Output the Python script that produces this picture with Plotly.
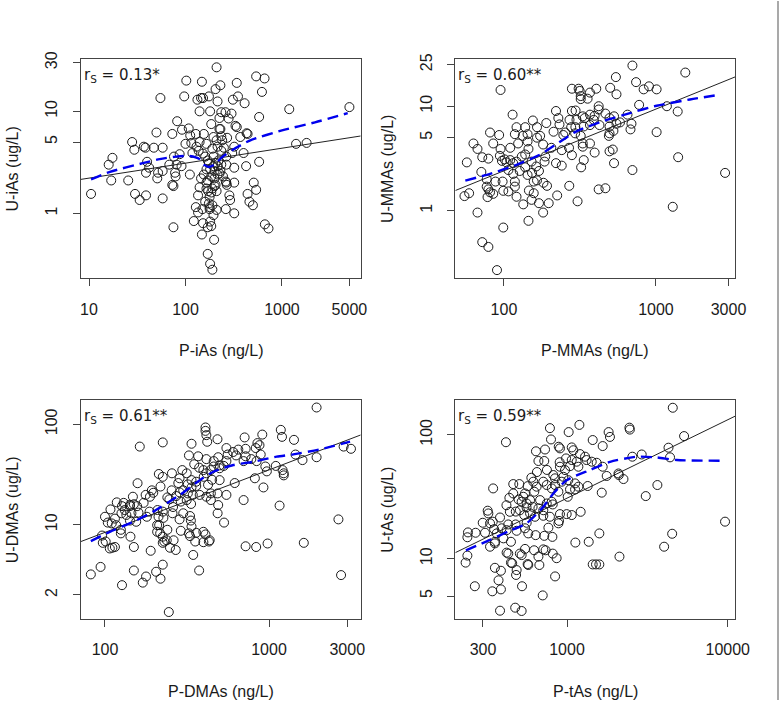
import plotly.graph_objects as go

W, H = 781, 709

# ---------------- data ----------------
p_ias = [210,102,148,340,540,660,620,230,205,55,97,133,145,152,175,215,350,310,410,140,
         180,235,260,300,280,225,580,1190,5000,82,185,330,340,230,92,108,50,73,112,128,
         155,195,235,270,370,430,440,28,29.5,37,38.5,47,58,100,115,140,165,215,235,320,
         400,1400,1800,137,160,195,16,17.5,40,42,39,52,58,51,68,76,78,79,81,87,
         91,111,145,155,165,175,195,205,215,235,265,320,425,580,17,25.5,10.5,30,33.5,39,
         58,73,75,135,140,165,165,172,185,178,200,210,262,265,268,285,290,320,440,460,
         500,510,540,128,135,150,178,210,262,320,122,152,170,185,180,148,198,75,665,725,
         170,180,190,178,195,170,225,200,152,130,118,240,210,225,265,305,
         160,175,190,185,200,215,205,190,230,245,180,170,220,250,190]
u_ias = [27,20,19.5,19,22,21,15.5,18,16.5,13.5,14,13,13.5,13.5,14,12.5,14,13,12,10,
         10,9.8,9.8,9.5,8.5,8.6,8.8,10.5,11,8,7.5,7.2,7,6.7,6.6,6.8,6.2,6,5.8,6,
         6,5.6,5.7,5.5,5.6,6.1,6,5,4.2,4.5,4.4,4.4,4.4,4.8,4.9,5,4.8,4.5,4.1,4.5,
         3.9,4.8,4.9,4.1,3.6,3.6,3,3.5,3.2,2.8,2.5,2.5,2.6,2.2,3,3.6,2.5,2.3,3,3.8,
         2.9,2.4,2.2,2.4,2.7,3.1,2.9,3.1,2.9,3,3,2.8,2.9,3.2,2.1,2.1,1.55,1.55,1.35,1.5,
         1.4,1.9,1.85,1.5,1.8,2,1.75,1.65,1.6,1.45,1.85,1.65,2.05,2,1.9,1.5,1.35,2,1.55,1.3,
         1.2,2,1.7,1.15,1.02,1.1,1.1,1.08,1.1,1,0.84,0.8,0.73,0.75,0.83,0.62,0.55,0.73,0.78,0.71,
         0.4,0.32,0.28,1.15,0.96,2.1,2.45,2.6,3.85,4.5,3.9,5.2,5.2,6.7,3.6,3.9,
         1.3,1.25,1.2,2.3,2.2,2.4,1.9,1.75,2.6,2.3,2.7,3.3,3.3,4.4,4.3]
fit_ias_x = [8.2, 6546]
fit_ias_y = [2.15, 5.73]
lo_ias_x = [10.5,16.5,36,54,80,110,140,155,175,200,235,310,470,1000,2200,4800]
lo_ias_y = [2.15,2.55,3.1,3.4,3.6,3.65,3.4,3.0,2.85,3.0,3.5,4.2,5.2,6.5,7.8,9.6]

p_mmas = [700,1560,545,740,830,900,1010,500,550,95,280,310,315,320,368,405,355,320,775,1180,
          1390,420,420,220,280,296,114,228,368,330,395,465,530,650,155,190,232,270,300,340,
          390,425,495,550,580,690,121,138,165,277,295,335,368,495,680,81,93,118,133,143,
          165,173,212,246,253,294,320,330,368,490,495,525,1010,63,67,85,95,110,124,143,
          145,181,205,240,268,280,330,395,495,520,72,79,57,94,97,101,104,110,115,121,
          131,138,152,185,187,220,240,322,335,530,700,2850,1400,71,77,88,98,107,115,118,
          127,138,143,153,163,170,157,165,182,77,79,78,85,81,55,59,99,107,118,121,
          134,152,146,157,170,197,192,224,269,305,420,465,1290,67,181,145,99,72,79,90]
u_mmas = [24.5,21,19,17,14.5,15.5,14.5,15,13,14.3,14.7,14.7,14,12.5,13.5,14.7,11.8,11.7,10.3,10,
          8.9,10,9.3,9,9,9.1,8.3,7.7,8.3,8,8.1,8.5,8,8.3,7.3,6.9,6.7,7.4,7.4,7.7,
          7.4,6.6,7.7,6.8,7,6.8,6.3,6.3,6.3,6.3,6.3,6.4,6.6,6.4,6,5.6,5.3,5.4,5.2,5.4,
          5,5.2,5.7,5.3,5.6,5.5,5.2,4.4,4.4,5.2,5.5,5.8,5.65,4.4,3.9,4.4,3.9,4,4.4,4.6,
          3.9,4.3,4,3.8,4,3.4,4.1,3.6,3.7,3.85,3.25,3.15,2.9,3.35,3.0,3.1,2.9,3.05,2.85,2.95,
          3.3,3.45,2.95,2.95,3.3,2.85,2.7,2.6,3.05,2.85,2.45,2.3,3.25,2.35,2,1.9,1.9,2.45,2.25,1.9,
          2.4,2.6,2.2,2.3,2.65,2.4,1.9,1.95,1.85,1.7,1.6,1.35,1.45,1.5,1.38,1.47,1.55,1.53,1.7,1.36,
          1.15,1.27,1.56,1.47,1.18,1.18,1.73,1.4,1.73,1.23,1.6,1.64,1.09,0.96,0.96,0.8,0.69,0.5,0.45,0.27]
fit_mmas_x = [47.9, 3326]
fit_mmas_y = [1.56, 19.1]
lo_mmas_x = [55.7,81,121,172,245,300,450,674,1010,1675,2640]
lo_mmas_y = [1.94,2.25,2.75,3.43,4.78,5.75,7.2,8.6,10.1,11.6,12.9]

p_dmas = [1950,410,410,1180,1200,415,485,710,910,1420,
          225,337,163,420,550,605,650,720,850,875,
          830,2850,3160,325,370,490,560,630,720,890,
          1450,1600,1950,415,460,500,550,780,700,840,
          375,398,415,440,460,500,530,296,315,950,
          970,1100,1210,1230,1230,213,225,256,285,337,
          360,425,500,618,820,925,158,320,337,360,
          193,218,197,177,188,255,285,320,343,378,
          415,442,486,550,240,247,272,290,315,335,
          442,490,700,1160,148,150,172,118,130,142,
          127,142,157,108,132,145,126,160,187,209,
          225,258,300,330,486,135,100,104,115,110,
          117,142,155,212,214,227,285,334,337,532,
          2650,125,125,143,208,208,217,225,240,290,
          325,330,360,398,410,355,398,430,435,238,
          230,225,262,96,97,101,107,111,115,150,
          190,249,270,345,720,835,980,1630,82,94,
          150,178,205,170,218,225,375,127,2750,245,
          180,260,300,400,350,450,280]
u_dmas = [147,93,86,88,75,78,71,74,79,70,
          66,64,60,67,58,53,56,57,65,62,
          58,60,57,49,48,47,50,49,48,50,
          50,44,47,45,43,39,43,45,43,43,
          37,35,32.5,35,38,36.5,38.5,35,32.5,38,
          34,38.5,35,32.5,31,32,30,32.5,29,27.8,
          26.8,25,27.8,26,29,23.5,25.9,25.2,23.5,24.3,
          22,24,20.8,19.8,19,22,21,20.5,19.8,19.8,
          19,20.5,20.5,19.8,18.7,17.9,19.3,17,17.6,16.1,
          17.6,15.7,17.6,15.5,19,16,16.5,16.7,16.5,15.8,
          15.3,15.3,15.3,14.2,14,13,13,13.2,13.5,14,
          13.5,13,13,12.2,13,12.5,12,10.5,11.5,10.3,
          9.9,11,10.7,12,9.9,11.7,11.3,11,9.6,10.5,
          11.3,8.9,8.2,7.6,9.9,8.5,8.2,7.6,8.9,8.7,
          8.2,7.7,8.3,8.5,8,6.8,6.7,6.8,7,7.0,
          6.8,6.6,7.0,7.8,6.6,6.8,5.8,5.9,6,6,
          5.5,5.9,5.6,5.0,6.1,6,6.5,6.6,3.2,3.8,
          3.5,3.05,3.4,2.65,2.9,4,3.5,2.5,3.15,1.35,
          12,15,22,30,40,28,26]
fit_dmas_x = [71, 3622]
fit_dmas_y = [6.78, 78.3]
lo_dmas_x = [82,107,149,197,286,380,458,606,802,1114,1406,2045,3120]
lo_dmas_y = [6.87,8.5,10.7,13.5,19.8,27.9,33.7,39.3,42.4,47.6,50.2,56.3,67.1]

p_tas = [4550,783,1194,1024,2445,2460,1815,1850,1445,5350,
         417,795,888,904,1070,1095,1667,4280,641,730,
         1205,1295,2915,2550,4375,664,722,986,1070,1148,
         1324,1425,1530,1667,904,972,1044,1177,2090,2100,
         1766,2245,822,842,949,927,1019,1122,1177,1345,
         1044,1122,1645,3650,3090,463,505,347,569,617,
         712,647,748,804,843,884,1010,438,463,535,
         548,626,589,522,561,611,680,804,815,712,
         664,748,441,509,542,589,632,712,783,904,
         995,1070,1216,321,324,345,383,431,479,561,
         548,332,299,270,309,242,240,352,365,392,
         421,486,574,638,722,811,766,884,892,1589,
         4510,9620,356,356,332,402,448,1127,1365,4020,
         421,431,509,522,548,624,664,712,736,815,
         862,240,234,2120,448,456,569,574,673,1445,
         1515,1589,356,388,486,482,843,375,267,525,
         343,388,706,383,476,522,
         600,650,900,750,500,560,420,480]
u_tas = [165,113,120,105,114,110,105,96,90.6,97.5,
         87,91.6,80,77.6,79,75,81,78.6,73.5,76,
         69.8,66.5,69.3,66.5,65.7,61.4,61.4,64.4,62.5,60.6,
         62.5,60.6,59.4,55.2,55.2,51.9,55.8,55.2,48.7,47.3,
         46.5,43.9,47.3,44.5,45.8,41.8,43,40.5,38.1,38.6,
         36.2,36.2,34.1,39.3,32,40,40,36.9,38.5,41.8,
         41.8,38.1,39.3,36.9,39.3,34.7,31.6,31,33.6,31.6,
         33.6,34.7,29.7,28.8,27.9,26.2,29.7,28.8,27.4,24.6,
         25.5,27.9,23.9,24.6,22.5,23.2,21.8,22.2,21.8,22.9,
         22.9,22.5,23.9,24.4,23.2,19.9,21.5,18.9,18.9,19.5,
         17.6,19.3,19.5,16.2,16.2,16.3,14.9,17.3,16,17.6,
         17,16.8,16,15.5,15.3,15,17.8,19.3,20.2,16,
         15.9,19.9,13.7,13.3,12.5,14.6,13.7,13.5,13.7,12.5,
         11.2,11,11,10.7,12,11.7,10.4,11.9,11.7,11,
         10.1,10.6,9.3,10.4,9.3,9.2,9.06,8.9,8.9,9.0,
         9.0,9.0,8.45,8.0,8.1,7.4,7.2,6.7,6.0,6.0,
         5.46,5.66,5.06,3.81,4.03,3.79,
         45,50,60,52,30,26,27,24]
fit_tas_x = [202, 11170]
fit_tas_y = [11.2, 141.6]
lo_tas_x = [235,332,441,561,712,822,995,1390,1853,2717,3614,4820,9620]
lo_tas_y = [11.7,14.2,16.8,19.3,26.2,33.6,43,51.9,60.5,66.5,65.6,62.5,61.7]

# panel definitions
panels = [
    dict(px=p_ias, py=u_ias, fx=fit_ias_x, fy=fit_ias_y, lx=lo_ias_x, ly=lo_ias_y,
         xt="P-iAs (ng/L)", yt="U-iAs (ug/L)", r="r<sub>S</sub> = 0.13*",
         xticks=[10, 100, 1000, 5000], yticks=[1, 5, 10, 30],
         xr=[0.914, 3.816], yr=[-0.637, 1.51], box=(80.7, 360.7, 59.3, 278.3)),
    dict(px=p_mmas, py=u_mmas, fx=fit_mmas_x, fy=fit_mmas_y, lx=lo_mmas_x, ly=lo_mmas_y,
         xt="P-MMAs (ng/L)", yt="U-MMAs (ug/L)", r="r<sub>S</sub> = 0.60**",
         xticks=[100, 1000, 3000], yticks=[1, 5, 10, 25],
         xr=[1.680, 3.522], yr=[-0.647, 1.449], box=(455.3, 735.3, 59.3, 278.3)),
    dict(px=p_dmas, py=u_dmas, fx=fit_dmas_x, fy=fit_dmas_y, lx=lo_dmas_x, ly=lo_dmas_y,
         xt="P-DMAs (ng/L)", yt="U-DMAs (ug/L)", r="r<sub>S</sub> = 0.61**",
         xticks=[100, 1000, 3000], yticks=[2, 10, 100],
         xr=[1.852, 3.559], yr=[0.061, 2.242], box=(80.7, 360.7, 400, 619)),
    dict(px=p_tas, py=u_tas, fx=fit_tas_x, fy=fit_tas_y, lx=lo_tas_x, ly=lo_tas_y,
         xt="P-tAs (ng/L)", yt="U-tAs (ug/L)", r="r<sub>S</sub> = 0.59**",
         xticks=[300, 1000, 10000], yticks=[5, 10, 100],
         xr=[2.305, 4.047], yr=[0.514, 2.280], box=(455.3, 735.3, 400, 619)),
]

def fx_(x):
    return x / W

def fy_(y):
    return 1 - y / H

INK = "#1a1a1a"
AX = "#444444"
TICKFONT = dict(family="Liberation Sans, Arial, sans-serif", size=16, color=INK)

fig = go.Figure()
layout = dict(width=W, height=H, autosize=False,
              margin=dict(l=0, r=0, t=0, b=0, pad=0, autoexpand=False),
              paper_bgcolor="white", plot_bgcolor="white", showlegend=False)
annotations = []

for i, p in enumerate(panels, start=1):
    xa = "x" if i == 1 else f"x{i}"
    ya = "y" if i == 1 else f"y{i}"
    n = min(len(p["px"]), len(p["py"]))
    fig.add_trace(go.Scatter(x=p["px"][:n], y=p["py"][:n], mode="markers", xaxis=xa, yaxis=ya,
                             marker=dict(symbol="circle-open", size=9, color=INK,
                                         line=dict(width=1, color=INK)),
                             hoverinfo="skip"))
    fig.add_trace(go.Scatter(x=p["fx"], y=p["fy"], mode="lines", xaxis=xa, yaxis=ya,
                             line=dict(color="#222222", width=1), hoverinfo="skip"))
    fig.add_trace(go.Scatter(x=p["lx"], y=p["ly"], mode="lines", xaxis=xa, yaxis=ya,
                             line=dict(color="#0000ee", width=2.4, dash="11px,6px",
                                       shape="spline", smoothing=0.6),
                             hoverinfo="skip"))
    x0, x1, y0, y1 = p["box"]
    common = dict(type="log", showline=True, mirror=True, linecolor=AX, linewidth=1.3,
                  ticks="outside", ticklen=7, tickwidth=1.2, tickcolor=AX,
                  showgrid=False, zeroline=False, tickfont=TICKFONT,
                  ticklabelstandoff=9, automargin=False)
    layout["xaxis" if i == 1 else f"xaxis{i}"] = dict(
        common, range=p["xr"], domain=[fx_(x0), fx_(x1)], anchor=ya,
        tickvals=p["xticks"], ticktext=[str(v) for v in p["xticks"]])
    layout["yaxis" if i == 1 else f"yaxis{i}"] = dict(
        common, range=p["yr"], domain=[fy_(y1), fy_(y0)], anchor=xa,
        tickvals=p["yticks"], ticktext=[str(v) for v in p["yticks"]], tickangle=-90)
    cx = (x0 + x1) / 2
    cy = (y0 + y1) / 2
    annotations.append(dict(xref="paper", yref="paper", x=fx_(cx), y=fy_(y1 + 72),
                            text=p["xt"], showarrow=False, xanchor="center", yanchor="middle",
                            font=dict(family="Liberation Sans, Arial, sans-serif", size=16, color=INK)))
    annotations.append(dict(xref="paper", yref="paper", x=fx_(x0 - 68), y=fy_(cy),
                            text=p["yt"], showarrow=False, xanchor="center", yanchor="middle",
                            textangle=-90,
                            font=dict(family="Liberation Sans, Arial, sans-serif", size=16, color=INK)))
    annotations.append(dict(xref="paper", yref="paper", x=fx_(x0 + 1), y=fy_(y0 + 16),
                            text=p["r"], showarrow=False, xanchor="left", yanchor="middle",
                            font=dict(family="DejaVu Sans, Verdana, sans-serif", size=15, color=INK)))

layout["annotations"] = annotations
layout["shapes"] = [dict(type="line", xref="paper", yref="paper",
                         x0=fx_(778), x1=fx_(778), y0=fy_(700), y1=fy_(1),
                         line=dict(color="#8c8c8c", width=1.5))]
fig.update_layout(**layout)

# remove the page margin so the figure sits at the top-left corner of the window
fit_script = """
document.documentElement.style.margin = '0';
document.documentElement.style.overflow = 'hidden';
document.body.style.margin = '0';
document.body.style.overflow = 'hidden';
"""
fig.write_html("out.html", config={"responsive": False, "displayModeBar": False},
               post_script=fit_script)
